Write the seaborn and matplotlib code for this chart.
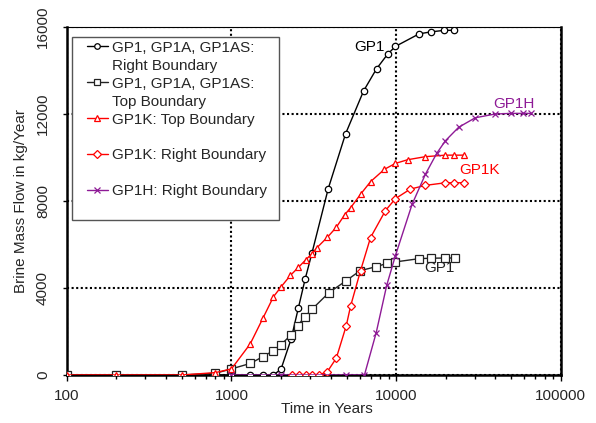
import matplotlib
matplotlib.use("Agg")
import matplotlib.pyplot as plt
from matplotlib.lines import Line2D
from matplotlib.legend_handler import HandlerLine2D
from matplotlib.ticker import LogLocator, NullFormatter
import pandas as pd
import seaborn as sns

# ---- Brine mass flow (kg/yr) versus time (yr) ----
gp1_right_t = [100, 200, 500, 800, 1000, 1300, 1550, 1800, 2000, 2300, 2550, 2800,
               3080, 3870, 4930, 6340, 7600, 8890, 9900, 13800, 16300, 19600, 22600]
gp1_right_v = [0, 0, 0, 0, 0, 0, 0, 0, 270, 1640, 3090, 4400,
               5600, 8570, 11090, 13060, 14080, 14760, 15110, 15690, 15780, 15850, 15850]

gp1_top_t = [100, 200, 500, 800, 1000, 1300, 1550, 1800, 2000, 2300, 2530, 2790,
             3080, 3900, 4980, 6050, 7570, 8770, 9900, 13800, 16300, 19800, 22900]
gp1_top_v = [0, 0, 0, 80, 280, 530, 840, 1120, 1400, 1840, 2270, 2680,
             3020, 3780, 4340, 4800, 4980, 5130, 5200, 5350, 5370, 5380, 5380]

gp1k_top_t = [100, 200, 500, 800, 1000, 1300, 1550, 1800, 2000, 2280, 2550, 2820,
              3080, 3300, 3820, 4330, 4860, 5290, 6080, 6990, 8490, 9900, 11750,
              15050, 19900, 22550, 25900]
gp1k_top_v = [0, 0, 0, 110, 280, 1430, 2600, 3600, 4050, 4580, 4950, 5290,
              5580, 5850, 6330, 6790, 7360, 7690, 8310, 8890, 9460, 9730, 9900,
              10040, 10110, 10110, 10110]

gp1k_right_t = [2330, 2570, 2820, 3080, 3380, 3820, 4330, 4980, 5290, 6080, 6990,
                8610, 9900, 12200, 15050, 19900, 22550, 25900]
gp1k_right_v = [0, 0, 0, 0, 0, 150, 770, 2270, 3170, 4800, 6320,
                7560, 8110, 8550, 8720, 8840, 8840, 8840]

gp1h_right_t = [1000, 2000, 4980, 6420, 7570, 8770, 9900, 12500, 15050, 17630,
                19900, 23950, 30250, 39800, 49500, 59100, 65800]
gp1h_right_v = [0, 0, 0, 0, 1950, 4130, 5490, 7850, 9230, 10190,
                10770, 11390, 11830, 12000, 12030, 12030, 12030]

x_ticks = [100, 1000, 10000, 100000]
x_tick_labels = ["100", "1000", "10000", "100000"]
y_ticks = [0, 4000, 8000, 12000, 16000]
y_tick_labels = ["0", "4000", "8000", "12000", "16000"]

BLACK = "black"
RED = "#ff0000"
PURPLE = "#8e1a96"
FS = 11

sns.set_theme(style="white")
plt.rcParams["font.family"] = ["Liberation Sans", "DejaVu Sans"]
plt.rcParams["font.size"] = FS

fig = plt.figure(figsize=(5.96, 4.23), dpi=100)
ax = fig.add_axes([0.112, 0.1135, 0.829, 0.8225])

series = [
    (gp1_right_t, gp1_right_v, BLACK, "o", 4.6),
    (gp1_top_t, gp1_top_v, "#222222", "s", 5.2),
    (gp1k_top_t, gp1k_top_v, RED, "^", 5.0),
    (gp1k_right_t, gp1k_right_v, RED, "D", 4.4),
    (gp1h_right_t, gp1h_right_v, PURPLE, "x", 5.0),
]

for t, v, color, marker, ms in series:
    frame = pd.DataFrame({"t": t, "v": v})
    sns.lineplot(data=frame, x="t", y="v", ax=ax, estimator=None, sort=False,
                 color=color, linewidth=1.0, marker=marker, markersize=ms,
                 markerfacecolor="white", markeredgecolor=color,
                 markeredgewidth=0.9, zorder=3)

ax.set_xscale("log")
ax.set_xlim(100, 100000)
ax.set_ylim(0, 16000)

ax.set_xticks(x_ticks)
ax.set_xticklabels(x_tick_labels)
ax.xaxis.set_minor_locator(LogLocator(base=10, subs=range(2, 10)))
ax.xaxis.set_minor_formatter(NullFormatter())
ax.set_yticks(y_ticks)
ax.set_yticklabels(y_tick_labels, rotation=90, va="center")

ax.tick_params(axis="x", which="major", direction="out", length=4, width=1,
               color="black", pad=6, labelsize=FS, bottom=True)
ax.tick_params(axis="x", which="minor", direction="out", length=3, width=1,
               color="black", bottom=True)
ax.tick_params(axis="y", which="major", direction="out", length=3, width=1,
               color="black", pad=9, labelsize=FS, left=True)

ax.grid(True, which="major", color="black", linestyle=(0, (1, 1.2)),
        linewidth=1.5, zorder=1)
ax.set_axisbelow(True)

for side in ["left", "bottom", "right"]:
    ax.spines[side].set_linewidth(1.8)
    ax.spines[side].set_color("black")
ax.spines["top"].set_linewidth(0.8)
ax.spines["top"].set_color("black")

ax.set_xlabel("Time in Years", fontsize=FS)
ax.xaxis.set_label_coords(0.527, -0.078)
ax.xaxis.label.set_va("top")
ax.set_ylabel("Brine Mass Flow in kg/Year", fontsize=FS)
ax.yaxis.set_label_coords(-0.078, 0.5)

# curve labels
ax.text(6890, 15080, "GP1", color=BLACK, ha="center", va="center", fontsize=FS)
ax.text(52000, 12460, "GP1H", color=PURPLE, ha="center", va="center", fontsize=FS)
ax.text(32000, 9425, "GP1K", color=RED, ha="center", va="center", fontsize=FS)
ax.text(18300, 4920, "GP1", color="#222222", ha="center", va="center", fontsize=FS)

# legend: continuation rows carry a blank handle
def handle(color, marker, ms):
    return Line2D([], [], color=color, linewidth=1.0, marker=marker, markersize=ms,
                  markerfacecolor="white", markeredgecolor=color, markeredgewidth=0.9)

blank = Line2D([], [], linestyle="none", marker=None)
handles = [handle(BLACK, "o", 4.0), blank,
           handle("#222222", "s", 4.4), blank,
           handle(RED, "^", 4.4), blank,
           handle(RED, "D", 3.8), blank,
           handle(PURPLE, "x", 4.4), blank]
labels = ["GP1, GP1A, GP1AS:", "Right Boundary",
          "GP1, GP1A, GP1AS:", "Top Boundary",
          "GP1K: Top Boundary", " ",
          "GP1K: Right Boundary  ", " ",
          "GP1H: Right Boundary  ", " "]
leg = ax.legend(handles, labels, loc="upper left", bbox_to_anchor=(0.0107, 0.972),
                borderaxespad=0, frameon=True, fancybox=False, framealpha=1,
                edgecolor="#555555", fontsize=FS, handlelength=2.1,
                handletextpad=0.25, labelspacing=0.26, borderpad=0.25,
                handler_map={Line2D: HandlerLine2D(xpad=0.7)})
leg.get_frame().set_linewidth(1.0)
leg.set_zorder(5)

fig.savefig("out.png", dpi=100)
